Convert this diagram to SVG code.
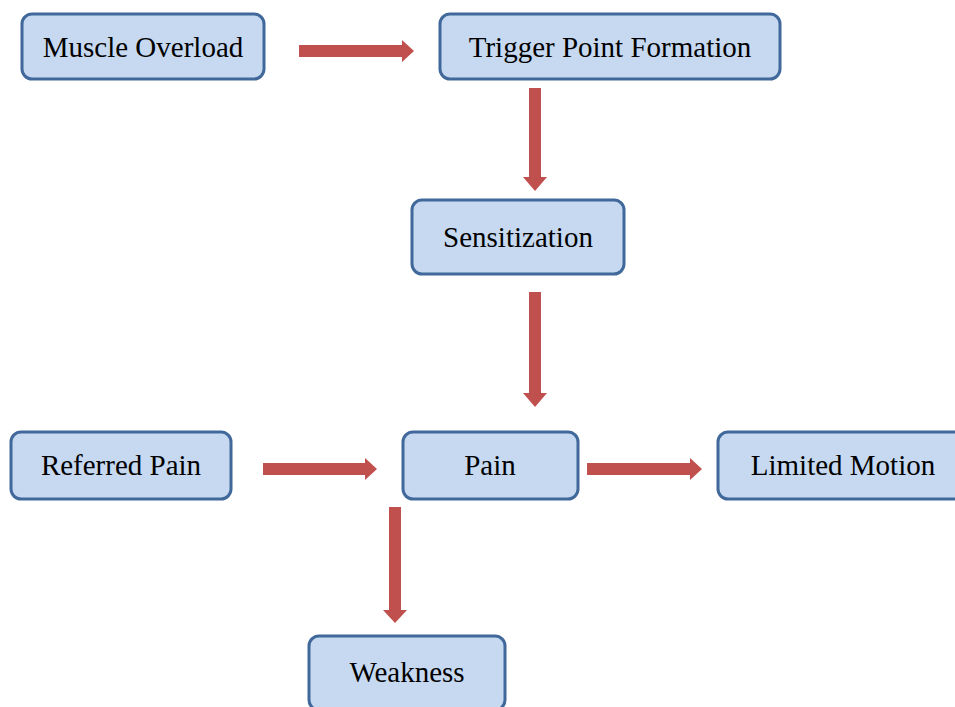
<svg xmlns="http://www.w3.org/2000/svg" width="955" height="707" viewBox="0 0 955 707">
<style>
.box{fill:#C6D9F1;stroke:#41689A;stroke-width:3}
.lbl{font-family:"Liberation Serif","Times New Roman",serif;font-size:29px;fill:#000;text-anchor:middle}
.arr{fill:#C0504D;stroke:none}
</style>
<rect width="955" height="707" fill="#fff"/>
<g id="connectors">
<path class="arr" d="M299,45 H402 V40 L414,51 L402,62 V57 H299 Z"/>
<path class="arr" d="M529,88 V177 H523 L535,191 L547,177 H541 V88 Z"/>
<path class="arr" d="M529,292 V393 H523 L535,407 L547,393 H541 V292 Z"/>
<path class="arr" d="M263,463 H365 V458 L377,469 L365,480 V475 H263 Z"/>
<path class="arr" d="M587,463 H690 V458 L702,469 L690,480 V475 H587 Z"/>
<path class="arr" d="M389,507 V610 H383 L395,623 L407,610 H401 V507 Z"/>
</g>
<g id="muscle-overload">
<rect class="box" x="22" y="14" width="242" height="65" rx="10"/>
<text class="lbl" x="143" y="57">Muscle Overload</text>
</g>
<g id="trigger-point">
<rect class="box" x="440" y="14" width="340" height="65" rx="10"/>
<text class="lbl" x="610" y="57">Trigger Point Formation</text>
</g>
<g id="sensitization">
<rect class="box" x="412" y="200" width="212" height="74" rx="10"/>
<text class="lbl" x="518" y="247">Sensitization</text>
</g>
<g id="referred-pain">
<rect class="box" x="11" y="432" width="220" height="67" rx="10"/>
<text class="lbl" x="121" y="475">Referred Pain</text>
</g>
<g id="pain">
<rect class="box" x="403" y="432" width="175" height="67" rx="10"/>
<text class="lbl" x="490" y="475">Pain</text>
</g>
<g id="limited-motion">
<rect class="box" x="718" y="432" width="250" height="67" rx="10"/>
<text class="lbl" x="843" y="475">Limited Motion</text>
</g>
<g id="weakness">
<rect class="box" x="309" y="636" width="196" height="74" rx="10"/>
<text class="lbl" x="407" y="682">Weakness</text>
</g>
</svg>
